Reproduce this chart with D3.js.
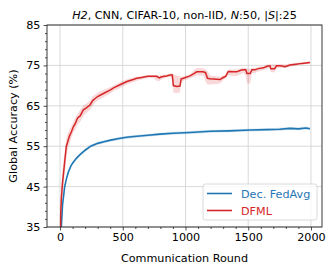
<!DOCTYPE html>
<html>
<head>
<meta charset="utf-8">
<script src="https://cdn.jsdelivr.net/npm/d3@7"></script>
<style>
  html, body { margin: 0; padding: 0; background: #fff; }
  svg { display: block; font-family: "DejaVu Sans", sans-serif; }
</style>
</head>
<body>
<svg id="chart" width="335" height="271"></svg>
<script>
/* ---------- data ---------- */

const xTicks = [0, 500, 1000, 1500, 2000];
const yTicks = [35, 45, 55, 65, 75, 85];

// Dec. FedAvg mean accuracy: [round, %]
const fedavgMean = [
  [0, 10], [5, 25], [10, 35], [20, 40.5], [37, 45], [50, 46.8], [65, 48.5],
  [85, 50], [100, 50.8], [130, 52], [159, 52.9], [200, 54], [244, 55],
  [300, 55.7], [350, 56.1], [404, 56.5], [470, 56.9], [531, 57.2], [590, 57.4],
  [700, 57.7], [797, 58], [900, 58.2], [1036, 58.4], [1200, 58.7], [1350, 58.8],
  [1514, 59], [1650, 59.1], [1750, 59.2], [1833, 59.4], [1900, 59.3],
  [1960, 59.5], [1992, 59.3]
];
const fedavgSpread = 0.35;

// DFML mean accuracy: [round, %]
const dfmlMean = [
  [0, 12], [5, 38], [10, 42], [20, 46], [30, 49], [40, 52], [50, 55], [60, 56],
  [75, 57.5], [90, 58.5], [106, 59.8], [120, 60.5], [140, 62], [160, 62.5],
  [186, 64], [210, 64.5], [239, 65.2], [260, 66.3], [280, 66.8], [300, 67.3],
  [330, 67.8], [350, 68.1], [398, 68.9], [430, 69.5], [478, 70.2], [533, 71],
  [584, 71.5], [611, 71.8], [650, 72], [700, 72.3], [744, 72.3], [770, 72.3],
  [790, 71.9], [810, 72.2], [850, 72.4], [876, 72.6], [895, 72.6], [903, 70],
  [930, 69.8], [956, 69.9], [965, 71.6], [983, 71.8], [1036, 72.4], [1070, 73],
  [1089, 73.4], [1142, 73.4], [1160, 73.2], [1175, 71.8], [1195, 71.7],
  [1275, 71.5], [1300, 72], [1320, 72.3], [1341, 73.5], [1380, 73.4],
  [1408, 73.4], [1440, 73.8], [1461, 73.9], [1480, 73.9], [1490, 73.0],
  [1515, 73.0], [1530, 73.9], [1554, 73.9], [1580, 74.2], [1621, 74.4],
  [1650, 74.8], [1673, 74.9], [1680, 74.2], [1710, 74.2], [1726, 74.9],
  [1760, 74.9], [1793, 74.7], [1833, 75.1], [1880, 75.3], [1930, 75.5],
  [1992, 75.7]
];

// DFML min/max band: [round, low, high]
const dfmlBand = [
  [0, 10, 14], [5, 34, 41], [10, 38, 45], [20, 42, 49], [30, 46, 52], [40, 49, 54],
  [50, 52, 57], [60, 54, 58], [75, 55.5, 59], [90, 57, 60], [106, 58.3, 61],
  [120, 59, 62], [140, 60.5, 63], [160, 61, 64], [186, 62.5, 65], [210, 63.3, 65.5],
  [239, 64, 66.3], [260, 65, 67.3], [280, 65.8, 67.8], [300, 66.3, 68.2],
  [330, 66.8, 68.7], [350, 67.2, 69], [398, 68, 69.6], [430, 68.7, 70.1],
  [478, 69.4, 70.8], [533, 70.3, 71.6], [584, 70.9, 72], [611, 71.2, 72.2],
  [650, 71.5, 72.4], [700, 71.9, 72.6], [744, 71.9, 72.6], [770, 71.2, 72.6],
  [790, 71.1, 72.5], [810, 71.6, 72.6], [850, 72, 72.8], [876, 72.2, 73],
  [895, 71.5, 73], [903, 68.3, 72.8], [930, 68.1, 72.5], [956, 68.3, 72.3],
  [965, 70.5, 72.2], [983, 71.2, 72.3], [1036, 71.8, 72.8], [1070, 72.2, 74],
  [1089, 72.5, 74.3], [1142, 72.5, 74.3], [1160, 71, 74], [1175, 70.3, 73.6],
  [1195, 70.3, 72.5], [1275, 70.5, 72.2], [1300, 71.3, 72.5], [1320, 71.8, 72.8],
  [1341, 72.6, 74], [1380, 72.3, 74], [1408, 72.4, 74], [1440, 72.8, 74.3],
  [1461, 73.2, 74.4], [1480, 72.5, 74.4], [1490, 70.5, 74.2], [1515, 70.5, 74.2],
  [1530, 73, 74.3], [1554, 73.2, 74.4], [1580, 73.5, 74.6], [1621, 73.8, 74.8],
  [1650, 74.2, 75.2], [1673, 74.3, 75.3], [1680, 73.3, 75.2], [1710, 73.3, 75.2],
  [1726, 74.3, 75.3], [1760, 74.4, 75.3], [1793, 74.3, 75.2], [1833, 74.7, 75.5],
  [1880, 75, 75.6], [1930, 75.2, 75.8], [1992, 75.4, 76]
];

const seriesNames = ["Dec. FedAvg", "DFML"];
const seriesColors = ["#1f77b4", "#d62728"];

/* ---------- layout ---------- */

const svg = d3.select("#chart");
const plot = { l: 47, t: 25, r: 322, b: 227 };
const FS = 11.2;

const x = d3.scaleLinear().domain([-104, 2088]).range([plot.l, plot.r]);
const y = d3.scaleLinear().domain([35, 85]).range([plot.b, plot.t]);

svg.append("defs").append("clipPath").attr("id", "clip")
  .append("rect")
  .attr("x", plot.l).attr("y", plot.t)
  .attr("width", plot.r - plot.l).attr("height", plot.b - plot.t);

// grid
const grid = svg.append("g").attr("stroke", "#cfcfcf").attr("stroke-width", 0.8);
xTicks.forEach(t => grid.append("line")
  .attr("x1", x(t)).attr("x2", x(t)).attr("y1", plot.t).attr("y2", plot.b));
yTicks.forEach(t => grid.append("line")
  .attr("x1", plot.l).attr("x2", plot.r).attr("y1", y(t)).attr("y2", y(t)));

/* ---------- series ---------- */

const g = svg.append("g").attr("clip-path", "url(#clip)");

const line = d3.line().x(d => x(d[0])).y(d => y(d[1]));

g.append("path")
  .datum(fedavgMean)
  .attr("d", d3.area().x(d => x(d[0]))
    .y0(d => y(d[1] - fedavgSpread)).y1(d => y(d[1] + fedavgSpread)))
  .attr("fill", seriesColors[0]).attr("fill-opacity", 0.2);

g.append("path")
  .datum(dfmlBand)
  .attr("d", d3.area().x(d => x(d[0])).y0(d => y(d[1])).y1(d => y(d[2])))
  .attr("fill", seriesColors[1]).attr("fill-opacity", 0.18);

g.append("path")
  .datum(fedavgMean)
  .attr("d", line)
  .attr("fill", "none").attr("stroke", seriesColors[0]).attr("stroke-width", 1.6);

g.append("path")
  .datum(dfmlMean)
  .attr("d", line)
  .attr("fill", "none").attr("stroke", seriesColors[1]).attr("stroke-width", 1.5);

/* ---------- axes ---------- */

svg.append("g")
  .attr("transform", `translate(0,${plot.b})`)
  .call(d3.axisBottom(x).tickValues(xTicks).tickSize(3.5).tickPadding(3).tickFormat(d3.format("d")));
svg.append("g")
  .attr("transform", `translate(0,${plot.b})`)
  .call(d3.axisBottom(x).tickValues(d3.range(0, 2001, 100).filter(v => v % 500)).tickSize(2).tickFormat(""));

svg.append("g")
  .attr("transform", `translate(${plot.l},0)`)
  .call(d3.axisLeft(y).tickValues(yTicks).tickSize(3.5).tickPadding(3));
svg.append("g")
  .attr("transform", `translate(${plot.l},0)`)
  .call(d3.axisLeft(y).tickValues(d3.range(35, 86, 2).filter(v => (v - 35) % 10)).tickSize(2).tickFormat(""));

svg.selectAll(".tick text")
  .attr("font-family", "DejaVu Sans").attr("font-size", FS).attr("fill", "#000");
svg.selectAll(".tick line").attr("stroke", "#222").attr("stroke-width", 0.8);
svg.selectAll(".domain").remove();

// frame
svg.append("rect")
  .attr("x", plot.l).attr("y", plot.t)
  .attr("width", plot.r - plot.l).attr("height", plot.b - plot.t)
  .attr("fill", "none").attr("stroke", "#222").attr("stroke-width", 0.9);

/* ---------- labels ---------- */

const title = svg.append("text")
  .attr("x", (plot.l + plot.r) / 2).attr("y", 18.5)
  .attr("text-anchor", "middle").attr("font-size", FS);
[["H2", true], [", CNN, CIFAR-10, non-IID, ", false], ["N", true],
 [":50, |", false], ["S", true], ["|:25", false]]
  .forEach(([s, it]) => title.append("tspan").text(s)
    .attr("font-style", it ? "italic" : "normal"));

svg.append("text")
  .attr("x", (plot.l + plot.r) / 2).attr("y", 262)
  .attr("text-anchor", "middle").attr("font-size", FS)
  .text("Communication Round");

svg.append("text")
  .attr("transform", `translate(17,${(plot.t + plot.b) / 2}) rotate(-90)`)
  .attr("text-anchor", "middle").attr("font-size", FS)
  .text("Global Accuracy (%)");

/* ---------- legend ---------- */

const lg = svg.append("g");
lg.append("rect")
  .attr("x", 203).attr("y", 184).attr("width", 114).attr("height", 36)
  .attr("rx", 2.5).attr("fill", "#fff").attr("fill-opacity", 0.8)
  .attr("stroke", "#d0d0d0").attr("stroke-width", 0.8);
seriesNames.forEach((name, i) => {
  const yy = 193.5 + i * 17;
  lg.append("line")
    .attr("x1", 207).attr("x2", 232).attr("y1", yy).attr("y2", yy)
    .attr("stroke", seriesColors[i]).attr("stroke-width", 1.6);
  lg.append("text")
    .attr("x", 241).attr("y", yy + 4)
    .attr("font-size", FS).attr("fill", seriesColors[i])
    .text(name);
});
</script>
</body>
</html>
